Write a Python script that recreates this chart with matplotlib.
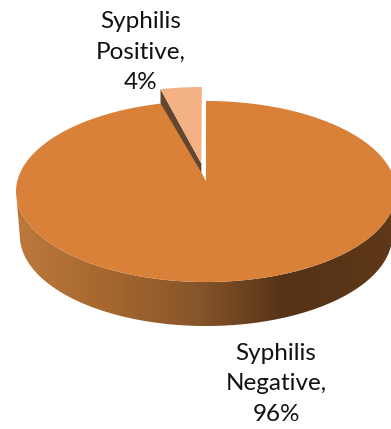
import numpy as np
import matplotlib
matplotlib.use('Agg')
import matplotlib.pyplot as plt
from matplotlib.colors import LinearSegmentedColormap
from matplotlib.patches import Polygon

categories = ['Syphilis\nNegative,', 'Syphilis\nPositive,']
percent = [96, 4]

# pie centre and tilt of the disc
cx, cy = 206, 181
radio = 188.7
persp = 0.116
alto = 89.3
grosor = 44
explode = 0.2

COL_NEG = '#D98039'
COL_POS = '#F4B183'
COL_CANTO = '#644630'


def proyectar(u, v, dy=0.0, escala=1.0):
    """Pasa puntos del disco (u, v) a pixeles con perspectiva."""
    d = 1 + persp * v
    return cx + escala * radio * u / d, cy - alto * v / d + dy


def borde(a0, a1, n=300):
    # angulos en grados, medidos desde arriba en sentido horario
    a = np.radians(np.linspace(a0, a1, n))
    return np.sin(a), np.cos(a)


fig = plt.figure(figsize=(3.91, 4.29), dpi=100)
ax = fig.add_axes([0, 0, 1, 1])
ax.set_xlim(0, 391)
ax.set_ylim(429, 0)
ax.axis('off')

ang_pos = percent[1] / sum(percent) * 360

# canto inferior con degradado
u, v = borde(0, 360, 720)
x_top, y_top = proyectar(u, v)
x_base, y_base = proyectar(u, v, dy=grosor, escala=0.98)
abajo = v <= -persp
orden = np.argsort(u[abajo])
x1, y1 = x_top[abajo][orden], y_top[abajo][orden]
x2, y2 = x_base[abajo][orden], y_base[abajo][orden]
canto = Polygon(np.column_stack([np.r_[x1, x2[::-1]], np.r_[y1, y2[::-1]]]),
                closed=True, fc='none', ec='none')
ax.add_patch(canto)
cmap = LinearSegmentedColormap.from_list('canto', [
    (0.0, '#C07C3E'), (0.25, '#A8692F'), (0.5, '#88562A'),
    (0.73, '#553216'), (1.0, '#5E3818')])
grad = ax.imshow(np.linspace(0, 1, 391)[None, :], cmap=cmap, aspect='auto',
                 extent=[0, 391, 429, 0], zorder=1)
grad.set_clip_path(canto)

# sector grande
u, v = borde(0, 360 - ang_pos)
x, y = proyectar(u, v)
ax.add_patch(Polygon(np.column_stack([np.r_[cx, x], np.r_[cy, y]]), closed=True,
                     fc=COL_NEG, ec='none', zorder=2))

# sector separado, desplazado hacia fuera por su bisectriz
med = np.radians(-ang_pos / 2)
du, dv = explode * np.sin(med), explode * np.cos(med)
u, v = borde(-ang_pos, 0, 60)
x, y = proyectar(u + du, v + dv)
xc, yc = proyectar(du, dv)
ax.add_patch(Polygon([(x[0], y[0]), (x[0], y[0] + 14), (xc, yc + 9), (xc, yc)],
                     closed=True, fc=COL_CANTO, ec='none', zorder=3))
ax.add_patch(Polygon(np.column_stack([np.r_[xc, x], np.r_[yc, y]]), closed=True,
                     fc=COL_POS, ec='none', zorder=4))

# etiquetas
texto = dict(ha='center', va='center', fontsize=17.5, family='Lato',
             color='#111111', linespacing=1.56, zorder=5)
ax.text(141, 52, f'{categories[1]}\n{percent[1]}%', **texto)
ax.text(276, 384, f'{categories[0]}\n{percent[0]}%', **texto)

fig.savefig('out.png', dpi=100)
